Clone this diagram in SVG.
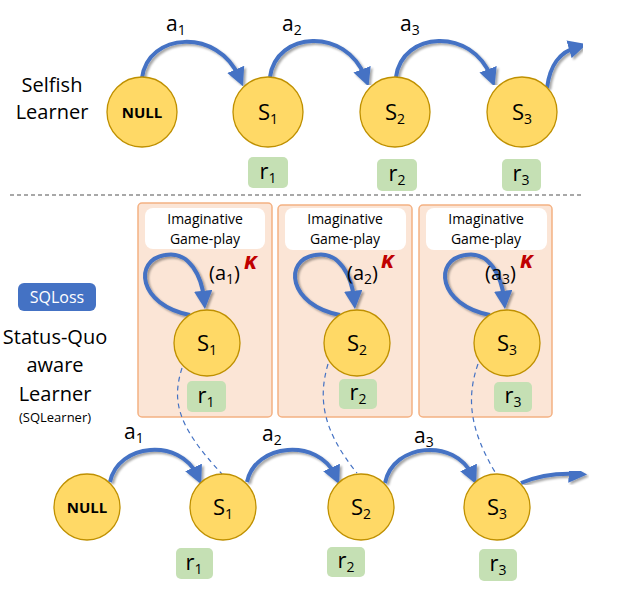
<svg xmlns="http://www.w3.org/2000/svg" width="634" height="604" viewBox="0 0 634 604">
<defs>
  <marker id="ah" viewBox="0 0 10 10" refX="4.5" refY="5" markerWidth="4.6" markerHeight="4.6" orient="auto">
    <path d="M0,0 L10,5 L0,10 Z" fill="#4472c4"/>
  </marker>
  <filter id="sh" x="-20%" y="-20%" width="140%" height="140%">
    <feDropShadow dx="2" dy="2" stdDeviation="1.2" flood-color="#000" flood-opacity="0.35"/>
  </filter>
</defs>
<style>
  text { font-family: "Open Sans", "Noto Sans", "Liberation Sans", sans-serif; fill: #000; }
  .st { fill: #ffd966; stroke: #bf9000; stroke-width: 1.3; }
  .rw { fill: #c5e0b4; }
  .box { fill: #fbe5d6; stroke: #f4b183; stroke-width: 1.5; }
  .ib { fill: #ffffff; }
  .arr { fill: none; stroke: #4472c4; stroke-width: 4; marker-end: url(#ah); filter: url(#sh); }
  .dash { fill: none; stroke: #4472c4; stroke-width: 1.2; stroke-dasharray: 5 4; }
  .lbl { font-size: 22px; text-anchor: middle; }
  .al { font-size: 21px; }
  .sub { font-size: 14px; }
  .side { font-size: 20px; text-anchor: middle; }
  .img { font-size: 14px; text-anchor: middle; }
  .kap { fill: #c00000; font-weight: bold; font-style: italic; font-size: 23px; }
  .null { font-size: 15px; font-weight: bold; text-anchor: middle; }
</style>
<rect width="634" height="604" fill="#ffffff"/>

<!-- side labels -->
<g id="label-selfish">
  <text class="side" x="52" y="92">Selfish</text>
  <text class="side" x="52" y="119">Learner</text>
</g>
<g id="sqloss">
  <rect x="18" y="283" width="78" height="28" rx="6" fill="#4472c4"/>
  <text x="57" y="303" font-size="16" text-anchor="middle" style="fill:#ffffff">SQLoss</text>
</g>
<g id="label-sq">
  <text class="side" x="55" y="344">Status-Quo</text>
  <text class="side" x="55" y="372">aware</text>
  <text class="side" x="55" y="401">Learner</text>
  <text x="55" y="422" font-size="13" text-anchor="middle">(SQLearner)</text>
</g>

<!-- divider -->
<line x1="10" y1="195" x2="582" y2="195" stroke="#8c8c8c" stroke-width="1.5" stroke-dasharray="4 3"/>

<!-- imaginative boxes -->
<g id="img1">
  <rect class="box" x="138" y="203" width="134" height="214" rx="4"/>
  <rect class="ib" x="145" y="208" width="120" height="41" rx="8"/>
  <text class="img" x="205" y="224">Imaginative</text>
  <text class="img" x="205" y="244">Game-play</text>
</g>
<g id="img2">
  <rect class="box" x="278" y="205" width="134" height="212" rx="4"/>
  <rect class="ib" x="285" y="208" width="121" height="42" rx="8"/>
  <text class="img" x="345" y="224">Imaginative</text>
  <text class="img" x="345" y="244">Game-play</text>
</g>
<g id="img3">
  <rect class="box" x="419" y="205" width="133" height="212" rx="4"/>
  <rect class="ib" x="426" y="208" width="121" height="42" rx="8"/>
  <text class="img" x="486" y="224">Imaginative</text>
  <text class="img" x="486" y="244">Game-play</text>
</g>

<!-- connectors -->
<g id="connectors">
  <!-- top row -->
  <path class="arr" d="M142,78 C148,32 218,28 239,77"/>
  <path class="arr" d="M270,77 C276,31 346,27 365,77"/>
  <path class="arr" d="M396,77 C402,31 472,27 491,77"/>
  <path class="arr" d="M547,88 C550,64 560,52 577,47"/>
  <!-- self loops -->
  <path class="arr" d="M190,315 C138,305 133,260 165,255 C190,250 202,278 204,299"/>
  <path class="arr" d="M340,315 C288,305 283,260 315,255 C340,250 352,278 354,299"/>
  <path class="arr" d="M490,315 C438,305 433,260 465,255 C490,250 502,278 504,299"/>
  <!-- bottom row -->
  <path class="arr" d="M110,482 C118,443 180,438 197,475"/>
  <path class="arr" d="M247,482 C255,443 318,438 335,475"/>
  <path class="arr" d="M385,483 C393,443 455,438 472,475"/>
  <path class="arr" d="M521,483 C540,475 558,473 577,474"/>
  <!-- dashed links -->
  <path class="dash" d="M182,368 C172,400 176,425 222,474"/>
  <path class="dash" d="M328,364 C318,398 322,430 357,473"/>
  <path class="dash" d="M478,364 C466,398 470,430 495,472"/>
</g>

<!-- action labels -->
<g id="action-labels">
  <text class="al" x="166" y="31">a<tspan class="sub" dy="4">1</tspan></text>
  <text class="al" x="282" y="31">a<tspan class="sub" dy="4">2</tspan></text>
  <text class="al" x="400" y="31">a<tspan class="sub" dy="4">3</tspan></text>
  <text class="al" x="124" y="439">a<tspan class="sub" dy="4">1</tspan></text>
  <text class="al" x="262" y="441">a<tspan class="sub" dy="4">2</tspan></text>
  <text class="al" x="414" y="443">a<tspan class="sub" dy="4">3</tspan></text>
  <text x="209" y="280" font-size="20">(a<tspan class="sub" dy="4">1</tspan><tspan dy="-4">)</tspan></text>
  <text class="kap" x="244" y="269">κ</text>
  <text x="347" y="280" font-size="20">(a<tspan class="sub" dy="4">2</tspan><tspan dy="-4">)</tspan></text>
  <text class="kap" x="381" y="268">κ</text>
  <text x="485" y="280" font-size="20">(a<tspan class="sub" dy="4">3</tspan><tspan dy="-4">)</tspan></text>
  <text class="kap" x="520" y="268">κ</text>
</g>

<!-- top row nodes -->
<g id="top-null"><circle class="st" cx="142" cy="112" r="35"/><text class="null" x="142" y="118">NULL</text></g>
<g id="top-s1"><circle class="st" cx="268" cy="112" r="35"/><text class="lbl" x="268" y="120">S<tspan class="sub" dy="4">1</tspan></text></g>
<g id="top-s2"><circle class="st" cx="395" cy="112" r="35"/><text class="lbl" x="395" y="120">S<tspan class="sub" dy="4">2</tspan></text></g>
<g id="top-s3"><circle class="st" cx="522" cy="112" r="35"/><text class="lbl" x="522" y="120">S<tspan class="sub" dy="4">3</tspan></text></g>
<g id="top-r1"><rect class="rw" x="248" y="157" width="40" height="31" rx="5"/><text class="lbl" x="268" y="179">r<tspan class="sub" dy="4">1</tspan></text></g>
<g id="top-r2"><rect class="rw" x="377" y="159" width="40" height="32" rx="5"/><text class="lbl" x="397" y="181">r<tspan class="sub" dy="4">2</tspan></text></g>
<g id="top-r3"><rect class="rw" x="502" y="159" width="39" height="32" rx="5"/><text class="lbl" x="521" y="181">r<tspan class="sub" dy="4">3</tspan></text></g>

<!-- imaginative nodes -->
<g id="img-s1"><circle class="st" cx="207" cy="343" r="33"/><text class="lbl" x="207" y="351">S<tspan class="sub" dy="4">1</tspan></text></g>
<g id="img-s2"><circle class="st" cx="357" cy="343" r="33"/><text class="lbl" x="357" y="351">S<tspan class="sub" dy="4">2</tspan></text></g>
<g id="img-s3"><circle class="st" cx="507" cy="343" r="33"/><text class="lbl" x="507" y="351">S<tspan class="sub" dy="4">3</tspan></text></g>
<g id="img-r1"><rect class="rw" x="187" y="381" width="39" height="31" rx="5"/><text class="lbl" x="206" y="403">r<tspan class="sub" dy="4">1</tspan></text></g>
<g id="img-r2"><rect class="rw" x="339" y="379" width="38" height="30" rx="5"/><text class="lbl" x="358" y="400">r<tspan class="sub" dy="4">2</tspan></text></g>
<g id="img-r3"><rect class="rw" x="494" y="382" width="38" height="30" rx="5"/><text class="lbl" x="513" y="403">r<tspan class="sub" dy="4">3</tspan></text></g>

<!-- bottom row nodes -->
<g id="bot-null"><circle class="st" cx="87" cy="507" r="33"/><text class="null" x="87" y="513">NULL</text></g>
<g id="bot-s1"><circle class="st" cx="223" cy="507" r="33"/><text class="lbl" x="223" y="515">S<tspan class="sub" dy="4">1</tspan></text></g>
<g id="bot-s2"><circle class="st" cx="361" cy="507" r="33"/><text class="lbl" x="361" y="515">S<tspan class="sub" dy="4">2</tspan></text></g>
<g id="bot-s3"><circle class="st" cx="497" cy="507" r="33"/><text class="lbl" x="497" y="515">S<tspan class="sub" dy="4">3</tspan></text></g>
<g id="bot-r1"><rect class="rw" x="176" y="548" width="37" height="31" rx="5"/><text class="lbl" x="194" y="570">r<tspan class="sub" dy="4">1</tspan></text></g>
<g id="bot-r2"><rect class="rw" x="327" y="547" width="38" height="30" rx="5"/><text class="lbl" x="346" y="568">r<tspan class="sub" dy="4">2</tspan></text></g>
<g id="bot-r3"><rect class="rw" x="479" y="549" width="38" height="32" rx="5"/><text class="lbl" x="498" y="571">r<tspan class="sub" dy="4">3</tspan></text></g>
</svg>
